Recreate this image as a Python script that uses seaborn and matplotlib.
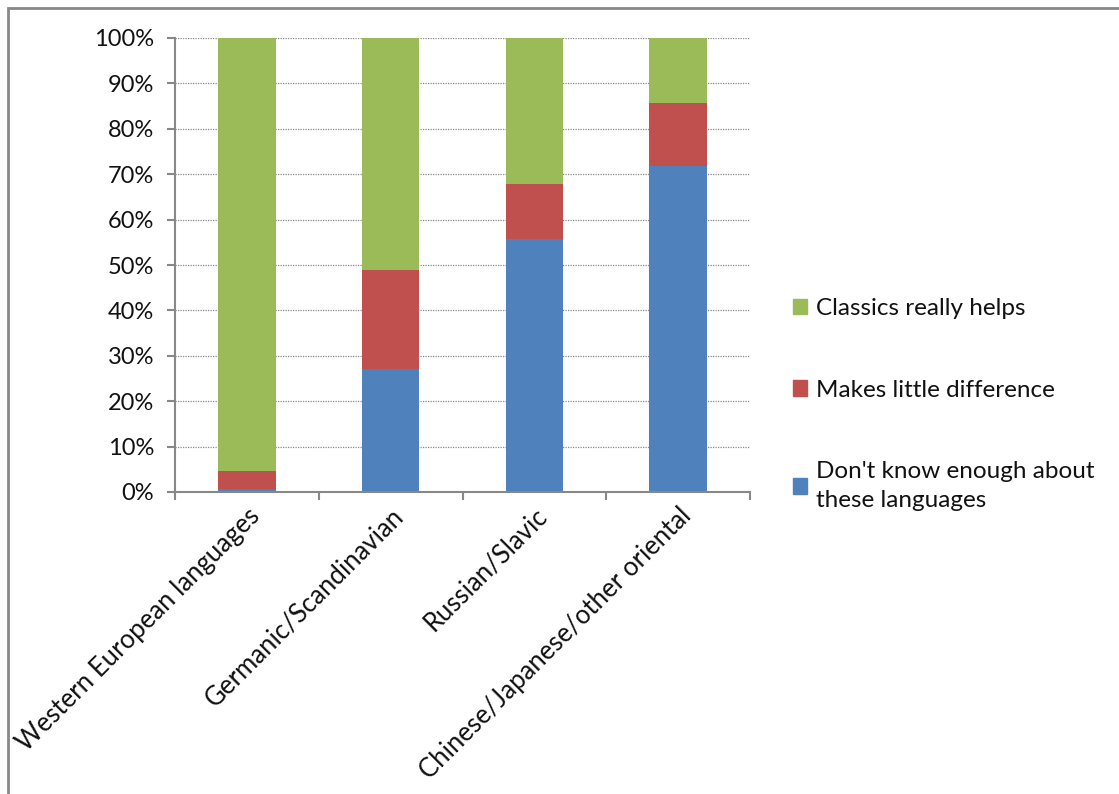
import matplotlib
matplotlib.use("Agg")
import matplotlib.pyplot as plt
import matplotlib.patches as mpatches
import numpy as np
import pandas as pd
import seaborn as sns

categories = ["Western European languages", "Germanic/Scandinavian",
              "Russian/Slavic", "Chinese/Japanese/other oriental"]
dont_know = [0.7, 27.0, 55.7, 71.9]
little_diff = [4.0, 22.0, 12.2, 13.8]
classics_helps = [95.3, 51.0, 32.1, 14.3]

series_names = ["Don't know enough about\nthese languages",
                "Makes little difference", "Classics really helps"]
colors = ["#4F81BD", "#C0504D", "#9BBB59"]

sns.set_theme(style="white")
plt.rcParams["font.family"] = ["Lato", "DejaVu Sans"]

df = pd.DataFrame({"cat": categories, "a": dont_know, "b": little_diff, "c": classics_helps})

fig = plt.figure(figsize=(11.19, 7.94), dpi=100)
ax = fig.add_axes([175 / 1119, 1 - 492 / 794, 575 / 1119, 454 / 794])

bottom = np.zeros(len(categories))
for col, name, color in zip(["a", "b", "c"], series_names, colors):
    sns.barplot(data=df, x="cat", y=col, color=color, width=0.4, bottom=bottom,
                ax=ax, saturation=1, linewidth=0)
    bottom = bottom + df[col].to_numpy()

ax.set_ylim(0, 100)
ax.set_xlim(-0.5, len(categories) - 0.5)
ax.set_yticks(range(0, 101, 10))
ax.set_yticklabels([f"{v}%" for v in range(0, 101, 10)], fontsize=17, color="#111111")
ax.yaxis.grid(True, linestyle=(0, (1, 1)), color="#888888", linewidth=0.9)
ax.set_axisbelow(True)
ax.set_xlabel("")
ax.set_ylabel("")

for s in ["top", "right"]:
    ax.spines[s].set_visible(False)
for s in ["left", "bottom"]:
    ax.spines[s].set_color("#888888")
    ax.spines[s].set_linewidth(1.5)

ax.tick_params(axis="y", which="major", direction="out", length=6, width=1.5,
               color="#888888", left=True, pad=9)
# x ticks at category boundaries
ax.set_xticks(np.arange(-0.5, len(categories), 1.0), minor=True)
ax.tick_params(axis="x", which="minor", direction="out", length=6, width=1.5,
               color="#888888", bottom=True)
ax.tick_params(axis="x", which="major", length=0, pad=8)
ax.set_xticks(range(len(categories)))
ax.set_xticklabels(categories, rotation=45, ha="right", rotation_mode="anchor",
                   fontsize=18.5, color="#111111")

handles = [mpatches.Patch(color=c, label=n) for n, c in zip(series_names, colors)]
leg = fig.legend(handles=handles[::-1], loc="upper left",
                 bbox_to_anchor=(771 / 1119, 1 - 276 / 794),
                 frameon=False, fontsize=17.5, labelspacing=2.5, handlelength=0.6,
                 handleheight=0.6, handletextpad=0.35, labelcolor="#111111")
for t in leg.get_texts():
    t.set_linespacing(1.45)

# outer frame
fig.patches.append(mpatches.Rectangle((8 / 1119, -0.05), 1.2, 1 - 8 / 794 + 0.05,
                                      transform=fig.transFigure, fill=False,
                                      edgecolor="#888888", linewidth=2))

fig.savefig("out.png", dpi=100)
